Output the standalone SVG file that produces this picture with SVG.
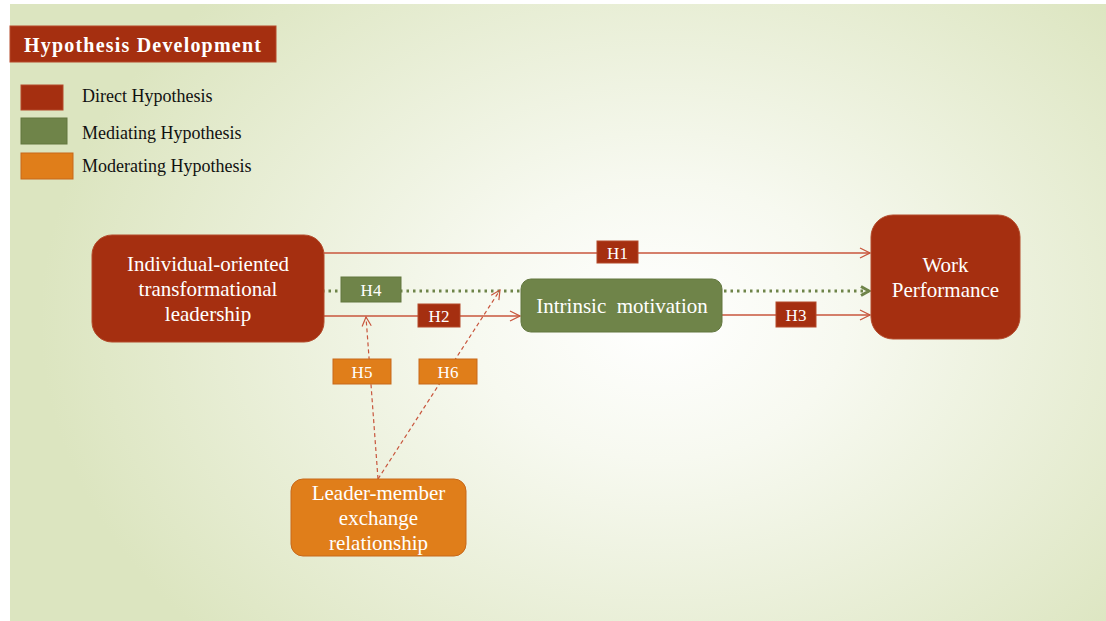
<svg xmlns="http://www.w3.org/2000/svg" width="1106" height="621" viewBox="0 0 1106 621">
<defs>
<radialGradient id="bg" cx="660" cy="320" r="620" gradientUnits="userSpaceOnUse" gradientTransform="translate(660 320) scale(1 0.75) translate(-660 -320)">
<stop offset="0" stop-color="#ffffff"/>
<stop offset="0.3" stop-color="#f7f9f0"/>
<stop offset="1" stop-color="#dce5c0"/>
</radialGradient>
<marker id="arr" viewBox="0 0 12 12" refX="11" refY="6" markerWidth="12" markerHeight="12" markerUnits="userSpaceOnUse" orient="auto">
<path d="M1,1 L11,6 L1,11" fill="none" stroke="#c8563d" stroke-width="1.3"/>
</marker>
<marker id="garr" viewBox="0 0 12 12" refX="10" refY="6" markerWidth="12" markerHeight="12" markerUnits="userSpaceOnUse" orient="auto">
<path d="M2,1.5 L10,6 L2,10.5" fill="none" stroke="#6e8449" stroke-width="3"/>
</marker>
<marker id="darr" viewBox="0 0 12 12" refX="11" refY="6" markerWidth="11" markerHeight="11" markerUnits="userSpaceOnUse" orient="auto">
<path d="M1,1 L11,6 L1,11" fill="none" stroke="#c8563d" stroke-width="1.3"/>
</marker>
<style>
.t{font-family:"Liberation Serif","Times New Roman",serif;}
.w{fill:#ffffff;}
.red{fill:#a52f10;stroke:#b34a2a;stroke-width:1;}
.grn{fill:#6f8449;stroke:#62773f;stroke-width:1;}
.org{fill:#e07e1a;stroke:#c7681a;stroke-width:1;}
.ln{stroke:#c8563d;stroke-width:1.3;fill:none;}
.dash{stroke:#c8563d;stroke-width:1.2;fill:none;stroke-dasharray:4 3;}
.dot{stroke:#6e8449;stroke-width:3;fill:none;stroke-dasharray:2.5 4;}
.lg{font-size:18px;fill:#111;}
.nd{font-size:21px;}
.lb{font-size:17px;}
</style>
</defs>
<rect x="0" y="0" width="1106" height="621" fill="#ffffff"/>
<rect x="10" y="4" width="1096" height="617" fill="url(#bg)"/>

<g id="title">
<rect x="10" y="26" width="266" height="36" fill="#a52f10" stroke="#b54a2a"/>
<text x="24" y="52" class="t w" font-size="20" font-weight="bold" letter-spacing="1.2">Hypothesis Development</text>
</g>
<g id="legend">
<rect x="21" y="85" width="42" height="25" class="red"/>
<text x="82" y="102" class="t lg">Direct Hypothesis</text>
<rect x="21" y="118" width="46" height="26" class="grn"/>
<text x="82" y="139" class="t lg">Mediating Hypothesis</text>
<rect x="21" y="153" width="52" height="26" class="org"/>
<text x="82" y="172" class="t lg">Moderating Hypothesis</text>
</g>

<g id="connectors">
<line x1="324" y1="253" x2="870" y2="253" class="ln" marker-end="url(#arr)"/>
<line x1="324" y1="316" x2="520" y2="316" class="ln" marker-end="url(#arr)"/>
<line x1="722" y1="315" x2="870" y2="315" class="ln" marker-end="url(#arr)"/>
<line x1="322" y1="291" x2="521" y2="291" class="dot"/>
<line x1="724" y1="291" x2="869" y2="291" class="dot" marker-end="url(#garr)"/>
<line x1="378" y1="479" x2="366" y2="317" class="dash" marker-end="url(#darr)"/>
<line x1="378" y1="479" x2="500" y2="290" class="dash" marker-end="url(#darr)"/>
<g id="lbl-h1"><rect x="597" y="241" width="41" height="22" class="red"/><text x="617.5" y="258.5" class="t w lb" text-anchor="middle">H1</text></g>
<g id="lbl-h2"><rect x="418" y="304" width="42" height="23" class="red"/><text x="439" y="321.5" class="t w lb" text-anchor="middle">H2</text></g>
<g id="lbl-h3"><rect x="776" y="302" width="40" height="25" class="red"/><text x="796" y="320.5" class="t w lb" text-anchor="middle">H3</text></g>
<g id="lbl-h4"><rect x="341" y="277" width="60" height="25" class="grn"/><text x="371" y="295.5" class="t w lb" text-anchor="middle">H4</text></g>
<g id="lbl-h5"><rect x="333" y="359" width="58" height="25" class="org"/><text x="362" y="377.5" class="t w lb" text-anchor="middle">H5</text></g>
<g id="lbl-h6"><rect x="419" y="359" width="58" height="25" class="org"/><text x="448" y="377.5" class="t w lb" text-anchor="middle">H6</text></g>
</g>

<g id="node-iotl">
<rect x="92" y="235" width="232" height="107" rx="20" class="red"/>
<text class="t w nd" text-anchor="middle"><tspan x="208" y="271">Individual-oriented</tspan><tspan x="208" y="296">transformational</tspan><tspan x="208" y="321">leadership</tspan></text>
</g>
<g id="node-im">
<rect x="521" y="279" width="201" height="53" rx="10" class="grn"/>
<text x="622" y="313" class="t w nd" text-anchor="middle" xml:space="preserve">Intrinsic  motivation</text>
</g>
<g id="node-wp">
<rect x="871" y="215" width="149" height="124" rx="22" class="red"/>
<text class="t w nd" text-anchor="middle"><tspan x="945.5" y="272">Work</tspan><tspan x="945.5" y="297">Performance</tspan></text>
</g>
<g id="node-lmx">
<rect x="291" y="479" width="175" height="77" rx="12" class="org"/>
<text class="t w nd" text-anchor="middle"><tspan x="378.5" y="500">Leader-member</tspan><tspan x="378.5" y="525">exchange</tspan><tspan x="378.5" y="550">relationship</tspan></text>
</g>
</svg>
